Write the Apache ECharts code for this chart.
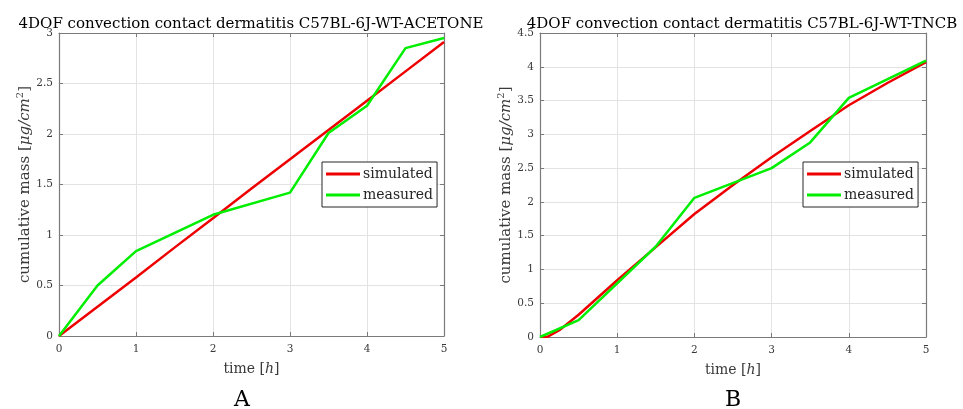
<!DOCTYPE html>
<html><head><meta charset="utf-8">
<script src="https://cdn.jsdelivr.net/npm/echarts@6/dist/echarts.min.js"></script>
<style>html,body{margin:0;padding:0;background:#fff}#c{width:963px;height:409px}</style>
</head><body><div id="c"></div>
<script>
// Panel A (ACETONE)
const timesA = [0, 0.5, 1, 1.5, 2, 2.5, 3, 3.5, 4, 4.5, 5];
const simulatedA = [0, 0.29, 0.58, 0.875, 1.165, 1.46, 1.75, 2.04, 2.33, 2.62, 2.91];
const measTimesA = [0, 0.5, 1, 2, 3, 3.5, 4, 4.5, 5];
const measuredA = [0, 0.5, 0.84, 1.2, 1.42, 2.01, 2.28, 2.85, 2.95];
// Panel B (TNCB)
const timesB = [0, 0.1, 0.25, 0.5, 1, 1.5, 2, 2.5, 3, 3.5, 4, 4.5, 5];
const simulatedB = [0, 0.005, 0.1, 0.33, 0.84, 1.33, 1.82, 2.25, 2.66, 3.05, 3.43, 3.76, 4.07];
const measTimesB = [0, 0.5, 1.5, 2, 3, 3.5, 4, 5];
const measuredB = [0, 0.25, 1.34, 2.06, 2.5, 2.88, 3.54, 4.09];
const xTicks = [0, 1, 2, 3, 4, 5];
const titles = ['4DOF convection contact dermatitis C57BL-6J-WT-ACETONE', '4DOF convection contact dermatitis C57BL-6J-WT-TNCB'];
const panelLabels = ['A', 'B'];
const yMax = [3, 4.5];

const FONT = 'DejaVu Serif';
const AX = '#7a7a7a';
const LBL = '#3a3a3a';
const pairs = (xs, ys) => xs.map((x, i) => [x, ys[i]]);
const grids = [
  {left: 59, top: 33, width: 385, height: 303},
  {left: 540, top: 33, width: 386, height: 304}
];
const xAxes = [], yAxes = [], series = [];
grids.forEach((g, i) => {
  g.show = false; g.containLabel = false;
  const axisBase = {
    min: 0, axisLine: {show: true, onZero: false, lineStyle: {color: AX, width: 1.2}},
    axisTick: {show: true, inside: true, length: 4, lineStyle: {color: AX}},
    axisLabel: {color: LBL, fontFamily: FONT, fontSize: 10.5},
    splitLine: {show: true, lineStyle: {color: '#e3e3e3', width: 1}}
  };
  xAxes.push(Object.assign({}, axisBase, {
    type: 'value', gridIndex: i, max: xTicks[xTicks.length - 1], interval: 1, position: 'bottom',
    axisLabel: Object.assign({}, axisBase.axisLabel, {margin: 8}),
    name: 'time [{i|h}]', nameLocation: 'middle', nameGap: 26,
    nameTextStyle: {fontFamily: FONT, fontSize: 14, color: LBL, rich: {i: {fontStyle: 'italic', fontFamily: FONT, fontSize: 14, color: LBL}}}
  }));
  xAxes.push(Object.assign({}, axisBase, {
    type: 'value', gridIndex: i, max: 5, interval: 1, position: 'top',
    axisLabel: {show: false}, splitLine: {show: false}
  }));
  yAxes.push(Object.assign({}, axisBase, {
    type: 'value', gridIndex: i, max: yMax[i], interval: 0.5, position: 'left',
    axisLabel: Object.assign({}, axisBase.axisLabel, {margin: 6}),
    name: 'cumulative mass [{i|μg/cm}{s|2}]', nameLocation: 'middle', nameGap: 23,
    nameTextStyle: {fontFamily: FONT, fontSize: 15, color: LBL,
      rich: {i: {fontStyle: 'italic', fontFamily: FONT, fontSize: 15, color: LBL},
             s: {fontFamily: FONT, fontSize: 10, color: LBL, verticalAlign: 'top', padding: [0, 0, 8, 0]}}}
  }));
  yAxes.push(Object.assign({}, axisBase, {
    type: 'value', gridIndex: i, max: yMax[i], interval: 0.5, position: 'right',
    axisLabel: {show: false}, splitLine: {show: false}
  }));
});
const sets = [
  [pairs(timesA, simulatedA), pairs(measTimesA, measuredA)],
  [pairs(timesB, simulatedB), pairs(measTimesB, measuredB)]
];
sets.forEach((s, i) => {
  series.push({name: 'simulated', type: 'line', xAxisIndex: i * 2, yAxisIndex: i * 2, data: s[0], showSymbol: false, symbol: 'none',
    lineStyle: {color: '#ee0000', width: 2.5}, itemStyle: {color: '#ee0000'}, z: 3, animation: false});
  series.push({name: 'measured', type: 'line', xAxisIndex: i * 2, yAxisIndex: i * 2, data: s[1], showSymbol: false, symbol: 'none',
    lineStyle: {color: '#00ee00', width: 2.5}, itemStyle: {color: '#00ee00'}, z: 4, animation: false});
});
const legendBase = {
  orient: 'vertical', top: 162, icon: 'rect', itemWidth: 34, itemHeight: 3, itemGap: 7,
  data: ['simulated', 'measured'], backgroundColor: '#fff', borderColor: '#262626', borderWidth: 1,
  padding: [5, 4, 5, 4], textStyle: {fontFamily: FONT, fontSize: 14, color: '#262626', padding: [0, 0, 0, -2]}
};
const chart = echarts.init(document.getElementById('c'));
chart.setOption({
  animation: false,
  title: [
    {text: titles[0], left: 246, top: 12, textAlign: 'center', textStyle: {fontFamily: FONT, fontSize: 15, fontWeight: 'normal', color: '#000'}},
    {text: titles[1], left: 737, top: 12, textAlign: 'center', textStyle: {fontFamily: FONT, fontSize: 15, fontWeight: 'normal', color: '#000'}},
    {text: panelLabels[0], left: 237, top: 384, textAlign: 'center', textStyle: {fontFamily: FONT, fontSize: 22, fontWeight: 'normal', color: '#000'}},
    {text: panelLabels[1], left: 728, top: 384, textAlign: 'center', textStyle: {fontFamily: FONT, fontSize: 22, fontWeight: 'normal', color: '#000'}}
  ],
  grid: grids,
  xAxis: xAxes,
  yAxis: yAxes,
  legend: [
    Object.assign({}, legendBase, {left: 322}),
    Object.assign({}, legendBase, {left: 803})
  ],
  series: series
});
</script></body></html>
